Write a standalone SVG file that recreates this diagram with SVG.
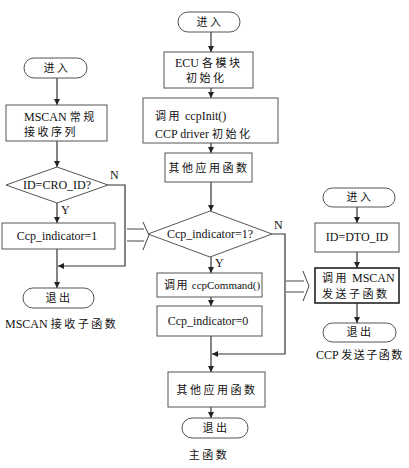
<svg xmlns="http://www.w3.org/2000/svg" width="409" height="468" viewBox="0 0 409 468">
<defs>
<marker id="ah" viewBox="0 0 8 8" refX="8" refY="4" markerWidth="6" markerHeight="6" orient="auto" markerUnits="userSpaceOnUse">
<path d="M0,0 L8,4 L0,8 z" fill="#222"/>
</marker>
<style>
.s{fill:#fff;stroke:#555;stroke-width:1}
.b{fill:#fff;stroke:#222;stroke-width:1.6}
.l{fill:none;stroke:#444;stroke-width:1}
.a{fill:none;stroke:#333;stroke-width:1.2;marker-end:url(#ah)}
text{font-family:"Liberation Serif","Noto Sans CJK SC",serif;font-size:12px;fill:#111}
.c{text-anchor:middle}
.z{letter-spacing:2.5px;font-size:11px}
.zs{letter-spacing:1.5px;font-size:11px}
</style>
</defs>
<rect width="409" height="468" fill="#fff"/>

<g id="connectors">
<line class="a" x1="57" y1="78" x2="57" y2="105"/>
<line class="a" x1="57" y1="141" x2="57" y2="167"/>
<line class="a" x1="57" y1="203" x2="57" y2="223"/>
<line class="a" x1="57" y1="249" x2="57" y2="288"/>
<polyline class="a" points="108,185 125,185 125,266 58,266"/>

<line class="a" x1="211" y1="32" x2="211" y2="52"/>
<line class="a" x1="211" y1="88" x2="211" y2="98"/>
<line class="a" x1="211" y1="143" x2="211" y2="153"/>
<line class="a" x1="211" y1="182" x2="211" y2="211"/>
<line class="a" x1="211" y1="257" x2="211" y2="273"/>
<line class="a" x1="211" y1="297" x2="211" y2="306"/>
<line class="a" x1="211" y1="336" x2="211" y2="372"/>
<line class="a" x1="211" y1="407" x2="211" y2="418"/>
<polyline class="a" points="272,234 285,234 285,354 212,354"/>

<line class="a" x1="357" y1="207" x2="357" y2="223"/>
<line class="a" x1="357" y1="252" x2="357" y2="268"/>
<line class="a" x1="357" y1="303" x2="357" y2="323"/>

<g id="blockarrow1">
<line class="l" x1="127" y1="229" x2="144" y2="229"/>
<line class="l" x1="127" y1="241" x2="144" y2="241"/>
<path class="l" d="M143,222 Q146,229 149,235 Q146,242 143,250"/>
</g>
<g id="blockarrow2">
<line class="l" x1="286" y1="281" x2="304" y2="281"/>
<line class="l" x1="286" y1="292" x2="304" y2="292"/>
<path class="l" d="M303,271 Q306,279 309,286 Q306,294 303,301"/>
</g>
</g>

<g id="l-start"><rect class="s" x="24" y="58" width="63" height="20" rx="10"/><text class="c z" x="57" y="72">进入</text></g>
<g id="l-recv"><rect class="s" x="6" y="105" width="101" height="36"/><text x="24" y="121">MSCAN <tspan class="z">常规</tspan></text><text class="z" x="24" y="136">接收序列</text></g>
<g id="l-dec"><polygon class="s" points="57,167 108,185 57,203 6,185"/><text class="c" x="57" y="189">ID=CRO_ID?</text><text x="110" y="179">N</text><text x="61" y="214">Y</text></g>
<g id="l-set"><rect class="s" x="2" y="223" width="113" height="26"/><text class="c" x="57" y="240">Ccp_indicator=1</text></g>
<g id="l-end"><rect class="s" x="23" y="288" width="71" height="20" rx="10"/><text class="c z" x="59" y="302">退出</text></g>
<g id="l-cap"><text x="5" y="328">MSCAN <tspan class="z">接收子函数</tspan></text></g>

<g id="m-start"><rect class="s" x="178" y="12" width="62" height="20" rx="10"/><text class="c z" x="210" y="26">进入</text></g>
<g id="m-init"><rect class="s" x="164" y="52" width="89" height="36"/><text x="175" y="67">ECU <tspan class="z">各模块</tspan></text><text class="z" x="186" y="82">初始化</text></g>
<g id="m-ccpinit"><rect class="s" x="143" y="98" width="135" height="45"/><text x="155" y="120"><tspan class="z">调用</tspan> ccpInit()</text><text x="155" y="138">CCP driver <tspan class="z">初始化</tspan></text></g>
<g id="m-other1"><rect class="s" x="165" y="153" width="87" height="29"/><text class="c z" x="209" y="172">其他应用函数</text></g>
<g id="m-dec"><polygon class="s" points="210,211 272,234 210,257 148,234"/><text class="c" x="210" y="238">Ccp_indicator=1?</text><text x="274" y="229">N</text><text x="215" y="267">Y</text></g>
<g id="m-cmd"><rect class="s" x="157" y="273" width="105" height="24"/><text x="164" y="289" style="font-size:11px"><tspan class="zs">调用</tspan> ccpCommand()</text></g>
<g id="m-reset"><rect class="s" x="157" y="306" width="105" height="30"/><text class="c" x="208" y="325">Ccp_indicator=0</text></g>
<g id="m-other2"><rect class="s" x="168" y="372" width="97" height="35"/><text class="c z" x="217" y="394">其他应用函数</text></g>
<g id="m-end"><rect class="s" x="182" y="418" width="66" height="20" rx="10"/><text class="c z" x="216" y="432">退出</text></g>
<g id="m-cap"><text class="c z" x="209" y="459">主函数</text></g>

<g id="r-start"><rect class="s" x="323" y="188" width="72" height="19" rx="9.5"/><text class="c z" x="360" y="201">进入</text></g>
<g id="r-id"><rect class="s" x="315" y="223" width="84" height="29"/><text class="c" x="357" y="241">ID=DTO_ID</text></g>
<g id="r-send"><rect class="b" x="315" y="268" width="84" height="35"/><text x="322" y="282"><tspan class="z">调用</tspan> MSCAN</text><text class="z" x="322" y="298">发送子函数</text></g>
<g id="r-end"><rect class="s" x="323" y="323" width="73" height="19" rx="9.5"/><text class="c z" x="360" y="336">退出</text></g>
<g id="r-cap"><text x="316" y="359">CCP <tspan class="zs">发送子函数</tspan></text></g>
</svg>
